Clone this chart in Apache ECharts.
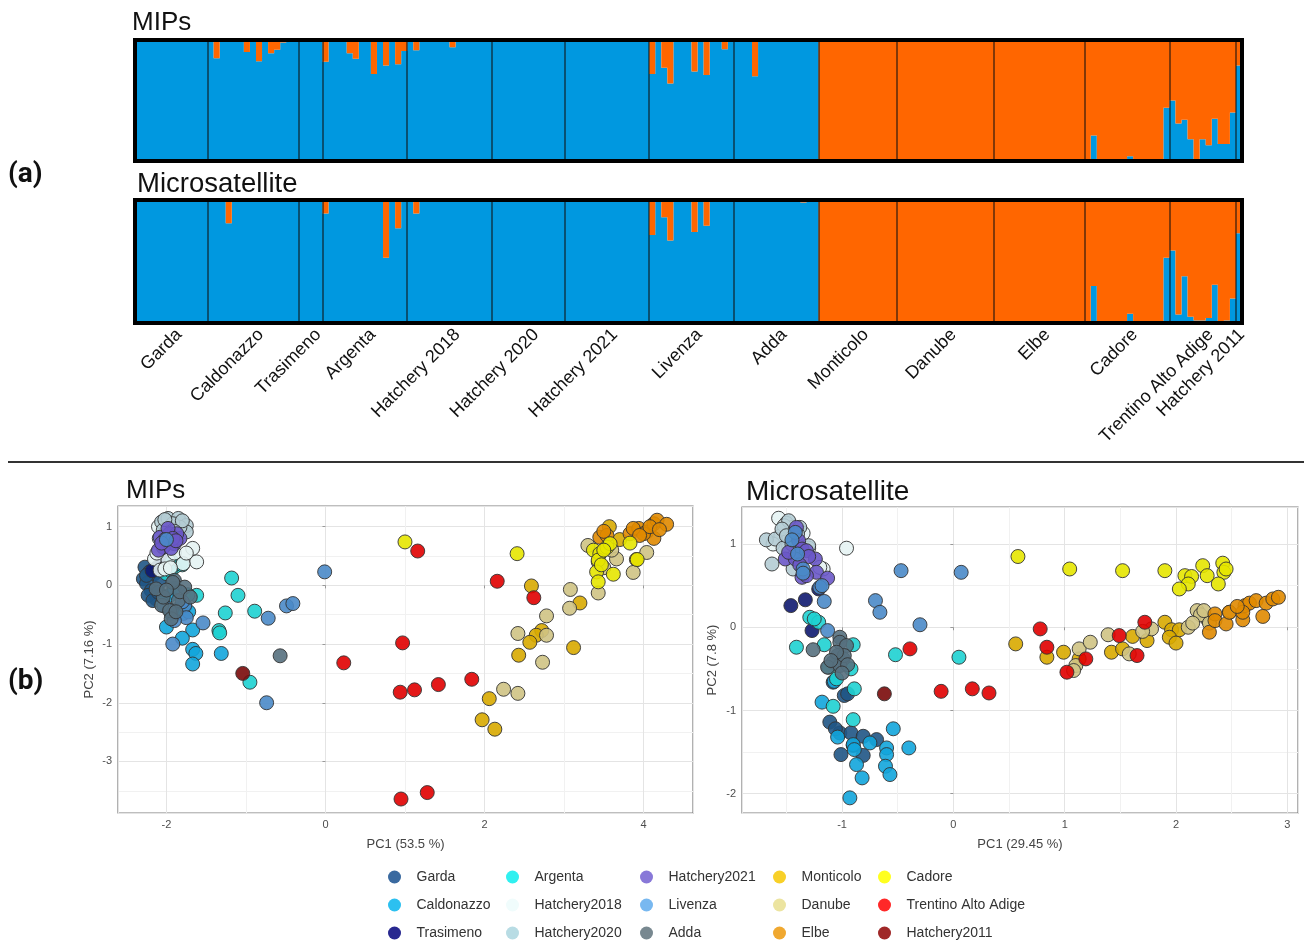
<!DOCTYPE html>
<html><head><meta charset="utf-8">
<script src="https://cdn.jsdelivr.net/npm/echarts@6/dist/echarts.min.js"></script>
<style>html,body{margin:0;padding:0;background:#fff}#c{width:1304px;height:940px}</style>
</head><body><div id="c"></div>
<script>
// ---------- categories ----------
const groups = ['Garda','Caldonazzo','Trasimeno','Argenta','Hatchery2018','Hatchery2020','Hatchery2021','Livenza','Adda','Monticolo','Danube','Elbe','Cadore','Trentino Alto Adige','Hatchery2011'];
const barLabels = ['Garda','Caldonazzo','Trasimeno','Argenta','Hatchery 2018','Hatchery 2020','Hatchery 2021','Livenza','Adda','Monticolo','Danube','Elbe','Cadore','Trentino Alto Adige','Hatchery 2011'];
const groupSizes = [12,15,4,14,14,12,14,14,14,13,16,15,14,11,1];

// ---------- STRUCTURE: blue-cluster ancestry per individual ----------
const mipsBlue = [
  [1,1,1,1,1,1,1,1,1,1,1,1],
  [0.99,0.85,0.985,1,0.99,1,0.90,1,0.825,0.99,0.89,0.92,0.98,1,1],
  [1,1,1,1],
  [0.82,1,0.995,0.995,0.89,0.845,0.995,1,0.72,1,0.79,1,0.80,0.91],
  [1,0.915,1,1,1,1,1,0.94,1,1,1,1,1,1],
  [1,0.995,1,1,1,1,1,1,1,1,1,1],
  [1,1,1,1,1,1,1,1,1,1,1,1,1,1],
  [0.72,1,0.77,0.64,1,1,1,0.74,1,0.71,1,1,0.923,1],
  [1,1,0.99,0.70,0.99,0.99,1,1,1,1,1,1,1,1],
  [0.01,0.01,0,0,0,0,0,0,0,0,0,0,0],
  [0,0,0,0,0,0,0,0,0,0,0,0,0,0,0,0],
  [0,0,0,0,0,0,0,0,0,0,0,0,0,0,0],
  [0,0.21,0,0,0.01,0,0,0.04,0.015,0,0,0,0,0.44],
  [0.50,0.31,0.34,0.18,0.01,0.18,0.13,0.35,0.14,0.14,0.40],
  [0.79]
];
const microBlue = [
  [1,1,1,1,1,0.983,1,1,0.983,1,1,1],
  [1,1,1,0.81,1,1,0.985,1,1,1,1,1,1,1,1],
  [1,1,1,1],
  [0.89,1,1,1,0.99,1,1,0.99,0.99,1,0.53,1,0.77,1],
  [1,0.89,1,1,1,1,1,0.985,1,1,1,1,1,1],
  [1,1,1,1,1,1,1,1,1,1,1,1],
  [1,1,1,1,1,1,1,1,1,1,1,1,1,1],
  [0.715,1,0.86,0.67,1,1,1,0.74,1,0.79,1,1,1,1],
  [1,1,1,1,1,0.99,1,1,1,1,1,0.98,1,1],
  [0,0.01,0.01,0,0,0,0,0,0,0,0,0,0],
  [0,0,0,0,0,0,0,0,0,0,0,0,0,0,0,0],
  [0,0,0,0,0,0,0,0,0,0,0,0,0,0,0],
  [0.005,0.30,0.005,0.005,0.005,0.005,0.005,0.076,0.005,0.005,0.005,0.005,0.005,0.53],
  [0.59,0.07,0.38,0.05,0.02,0.02,0.04,0.31,0.01,0.02,0.20],
  [0.73]
];

// ---------- PCA scores ----------
const mipsPCA = [
  [[-2.27,0.31],[-2.21,0.23],[-2.29,0.11],[-2.25,0.03],[-2.19,-0.09],[-2.13,-0.23],[-2.23,-0.17],[-2.15,0.20],[-2.08,0.06],[-2.17,-0.26],[-2.25,0.17],[-2.10,-0.12]],
  [[-1.67,-0.76],[-1.80,-0.90],[-1.67,-1.09],[-1.63,-1.16],[-1.67,-1.34],[-1.31,-1.16],[-2.0,-0.71],[-1.96,-0.17],[-1.77,-0.37],[-1.79,-0.48],[-1.94,-0.48],[-1.85,-0.40],[-1.72,-0.45],[-2.05,-0.30],[-1.90,-0.05]],
  [[-2.02,0.45],[-2.12,0.30],[-2.06,0.35],[-2.18,0.25]],
  [[-1.18,0.125],[-1.10,-0.17],[-1.26,-0.47],[-0.89,-0.44],[-1.34,-0.77],[-1.33,-0.81],[-0.95,-1.65],[-1.62,-0.17],[-1.73,-0.16],[-1.90,0.31],[-1.93,0.40],[-2.0,0.20],[-1.95,0.25],[-1.80,0.35]],
  [[-1.67,0.63],[-1.62,0.40],[-1.79,0.37],[-2.15,0.45],[-2.08,0.26],[-1.98,0.43],[-2.02,0.28],[-1.90,0.55],[-2.05,0.70],[-1.85,0.95],[-2.10,1.0],[-1.95,0.30],[-1.75,0.55],[-2.12,0.55]],
  [[-2.06,1.08],[-1.98,1.14],[-1.85,1.14],[-1.75,1.02],[-1.75,0.91],[-1.83,0.99],[-1.92,1.05],[-2.04,0.94],[-2.09,0.80],[-1.80,1.10],[-2.02,1.12],[-1.90,0.92]],
  [[-2.08,0.82],[-2.0,0.74],[-1.90,0.71],[-1.83,0.80],[-1.96,0.88],[-2.04,0.65],[-2.10,0.60],[-1.94,0.63],[-1.87,0.88],[-1.98,0.97],[-2.02,0.78],[-1.92,0.80],[-2.06,0.72],[-1.88,0.76]],
  [[-0.01,0.23],[-0.49,-0.35],[-0.41,-0.31],[-0.72,-0.56],[-0.74,-2.0],[-1.54,-0.64],[-1.92,-1.0],[-1.94,-0.43],[-1.77,-0.34],[-2.0,0.78],[-1.75,-0.55],[-1.90,-0.60],[-2.03,-0.35],[-1.80,-0.28]],
  [[-0.57,-1.2],[-1.90,0.085],[-1.77,-0.03],[-1.85,-0.26],[-2.06,-0.34],[-1.96,-0.43],[-2.04,-0.2],[-2.13,-0.06],[-1.94,-0.57],[-1.83,-0.11],[-1.92,0.05],[-1.70,-0.20],[-2.0,-0.08],[-1.88,-0.45]],
  [[2.59,-0.01],[3.20,-0.30],[2.72,-0.77],[2.65,-0.85],[2.57,-0.97],[3.12,-1.06],[2.43,-1.19],[2.06,-1.93],[1.97,-2.29],[2.13,-2.45],[3.57,1.0],[3.70,0.78],[3.91,0.44]],
  [[3.08,-0.07],[3.07,-0.39],[2.78,-0.52],[2.42,-0.82],[2.78,-0.85],[2.73,-1.31],[2.24,-1.77],[2.42,-1.84],[3.43,-0.13],[3.66,0.45],[3.87,0.22],[4.04,0.56],[3.30,0.68],[3.43,0.40],[3.50,0.30],[3.60,0.60]],
  [[3.45,0.82],[3.54,0.85],[3.83,0.88],[3.94,0.97],[4.04,0.91],[4.13,1.05],[4.17,1.11],[4.29,1.04],[4.13,0.80],[4.0,0.88],[3.87,0.97],[4.08,1.0],[3.50,0.92],[4.20,0.95],[3.95,0.85]],
  [[1.0,0.74],[2.41,0.54],[3.37,0.60],[3.45,0.54],[3.43,0.43],[3.54,0.65],[3.58,0.71],[3.41,0.23],[3.43,0.06],[3.83,0.72],[3.92,0.44],[3.62,0.19],[3.50,0.60],[3.47,0.35]],
  [[1.16,0.585],[2.16,0.07],[2.62,-0.21],[0.97,-0.98],[0.23,-1.32],[0.94,-1.82],[1.12,-1.78],[1.42,-1.69],[1.84,-1.60],[0.95,-3.64],[1.28,-3.53]],
  [[-1.04,-1.50]]
];
const microPCA = [
  [[-1.08,-0.66],[-0.98,-0.82],[-0.95,-0.80],[-1.11,-1.14],[-1.02,-1.27],[-0.92,-1.27],[-0.81,-1.31],[-0.69,-1.35],[-1.01,-1.53],[-0.81,-1.54],[-0.90,-1.42],[-1.06,-1.22]],
  [[-1.18,-0.90],[-1.04,-1.32],[-0.90,-1.41],[-0.89,-1.47],[-0.87,-1.65],[-0.82,-1.81],[-0.93,-2.05],[-0.54,-1.22],[-0.40,-1.45],[-0.60,-1.45],[-0.60,-1.53],[-0.61,-1.67],[-0.57,-1.77],[-0.75,-1.39],[-1.07,-0.65]],
  [[-1.46,0.26],[-1.33,0.33],[-1.27,-0.04],[-1.21,0.46]],
  [[-1.41,-0.24],[-1.16,-0.21],[-1.29,0.12],[-1.21,0.06],[-0.52,-0.33],[0.05,-0.36],[-0.90,-0.21],[-0.92,-0.50],[-1.05,-0.62],[-0.89,-0.74],[-1.08,-0.95],[-0.90,-1.11],[-1.12,-0.48],[-1.25,0.10]],
  [[-0.96,0.95],[-1.17,0.70],[-1.57,1.31],[-1.50,1.25],[-1.45,1.20],[-1.55,1.10],[-1.40,1.05],[-1.35,1.13],[-1.62,1.00],[-1.30,0.95],[-1.48,0.98],[-1.20,0.72],[-1.52,1.22],[-1.42,0.92]],
  [[-1.48,1.28],[-1.68,1.05],[-1.63,0.76],[-1.60,1.06],[-1.53,0.95],[-1.45,1.0],[-1.38,1.20],[-1.30,0.98],[-1.44,0.70],[-1.54,1.18],[-1.50,1.10],[-1.40,1.12]],
  [[-1.41,1.20],[-1.39,1.04],[-1.36,0.94],[-1.32,0.92],[-1.51,0.82],[-1.42,0.82],[-1.24,0.82],[-1.36,0.60],[-1.23,0.66],[-1.13,0.59],[-1.32,0.62],[-1.48,0.90],[-1.30,0.85],[-1.38,0.75]],
  [[-0.47,0.68],[0.07,0.66],[-0.70,0.32],[-0.66,0.18],[-0.30,0.03],[-1.16,0.31],[-1.20,0.48],[-1.13,-0.04],[-1.42,1.14],[-1.35,0.70],[-1.40,0.88],[-1.18,0.50],[-1.45,1.05],[-1.35,0.65]],
  [[-1.26,-0.27],[-1.02,-0.12],[-1.02,-0.18],[-0.96,-0.22],[-1.04,-0.34],[-0.99,-0.38],[-1.08,-0.42],[-1.13,-0.48],[-1.02,-0.46],[-0.98,-0.34],[-1.05,-0.30],[-0.95,-0.45],[-1.00,-0.55],[-1.10,-0.40]],
  [[0.56,-0.20],[0.99,-0.30],[0.84,-0.36],[1.42,-0.30],[1.52,-0.26],[1.61,-0.11],[1.74,-0.16],[1.90,0.06],[1.96,-0.03],[2.03,-0.03],[1.94,-0.12],[2.0,-0.19],[1.13,-0.38]],
  [[1.13,-0.26],[1.23,-0.18],[1.10,-0.46],[1.39,-0.09],[1.58,-0.32],[1.78,-0.02],[2.11,0.0],[2.19,0.20],[2.28,0.10],[2.48,0.18],[2.22,0.15],[1.08,-0.52],[2.30,0.05],[1.70,-0.05],[2.15,0.05],[2.25,0.20]],
  [[2.30,-0.06],[2.35,0.16],[2.35,0.08],[2.45,0.04],[2.48,0.18],[2.60,0.09],[2.62,0.26],[2.66,0.29],[2.72,0.32],[2.81,0.29],[2.87,0.34],[2.92,0.36],[2.78,0.13],[2.60,0.18],[2.55,0.25]],
  [[0.58,0.85],[1.045,0.70],[1.52,0.68],[1.90,0.68],[2.08,0.62],[2.14,0.61],[2.11,0.52],[2.03,0.46],[2.24,0.74],[2.28,0.62],[2.42,0.77],[2.43,0.66],[2.38,0.52],[2.45,0.70]],
  [[-0.39,-0.26],[-0.11,-0.77],[0.17,-0.74],[0.32,-0.79],[0.78,-0.02],[0.84,-0.24],[1.02,-0.54],[1.19,-0.38],[1.49,-0.10],[1.65,-0.34],[1.72,0.06]],
  [[-0.62,-0.80]]
];

// ---------- colours ----------
const pointColors = ['#1f5585','#12a5dc','#101a70','#1ed2d2','#e6f3f3','#b4ccd4','#6a58c8','#4a8ac8','#56707e','#d8aa00','#cfc384','#e08a00','#e6e600','#e00000','#7a0a0a'];
const legendColors = ['#3a6aa0','#2cc0f0','#282890','#30f0f0','#f0fcfc','#b8dce4','#8878d8','#78b8f0','#788890','#f8d028','#ece4a0','#f0a830','#ffff20','#ff2828','#a02828'];
const legendColumns = [[0,1,2],[3,4,5],[6,7,8],[9,10,11],[12,13,14]];
const legendLefts = [388,506,640,773,878];
const BLUE = '#0098e0', ORANGE = '#ff6600';

// ---------- build ----------
const N = groupSizes.reduce((a,b)=>a+b,0);
const ids = []; for (let i=0;i<N;i++) ids.push('ind'+(i+1));
const boundaries = []; const labelPos = []; const labelByPos = {};
let acc = 0;
groupSizes.forEach((s,g)=>{
  const p = +Math.min(N - 0.02, acc + s/2 + 1.3).toFixed(2);
  labelPos.push(p); labelByPos[p.toFixed(2)] = barLabels[g];
  acc += s; if (acc < N) boundaries.push(acc);
});
const flat = arr => [].concat(...arr);
const mB = flat(mipsBlue), sB = flat(microBlue);

const FONT = "'Liberation Sans', Arial, sans-serif";
const chart = echarts.init(document.getElementById('c'), null, {renderer:'canvas'});

function barGrid(top, height){ return {left:135, top:top, width:1107, height:height, show:true, borderColor:'#000', borderWidth:4, backgroundColor:'transparent', z:10}; }
function sepSeries(xi, yi){
  return {type:'line', xAxisIndex:xi, yAxisIndex:yi, data:[[0,0]], symbol:'none', lineStyle:{opacity:0}, z:5, silent:true,
    markLine:{silent:true, symbol:['none','none'], label:{show:false}, lineStyle:{color:'rgba(15,15,15,0.7)', width:1.5, type:'solid'},
      data: boundaries.map(b=>({xAxis:b}))}};
}
function barPair(xi, yi, blue, stack){
  return [
    {type:'bar', xAxisIndex:xi, yAxisIndex:yi, stack:stack, data:blue, barCategoryGap:0, barGap:0, silent:true,
      large:true, largeThreshold:50, itemStyle:{color:BLUE}},
    {type:'bar', xAxisIndex:xi, yAxisIndex:yi, stack:stack, data:blue.map(v=>+(1-v).toFixed(4)), barCategoryGap:0, barGap:0, silent:true,
      large:true, largeThreshold:50, itemStyle:{color:ORANGE}}
  ];
}
function pcaX(grid, min, max, split, name){
  return {type:'value', gridIndex:grid, min:min, max:max, splitNumber:split,
    axisLine:{show:false}, axisTick:{show:true, length:3, lineStyle:{color:'#999'}},
    axisLabel:{showMinLabel:false, showMaxLabel:false, fontSize:11, color:'#4d4d4d', margin:6},
    splitLine:{lineStyle:{color:'#e4e4e4', width:1}},
    minorTick:{show:false, splitNumber:2}, minorSplitLine:{show:true, lineStyle:{color:'#f1f1f1', width:1}},
    name:name, nameLocation:'middle', nameGap:25, nameTextStyle:{fontSize:13, color:'#444'}};
}
function pcaY(grid, min, max, split, name, gap){
  return {type:'value', gridIndex:grid, min:min, max:max, splitNumber:split,
    axisLine:{show:false}, axisTick:{show:true, length:3, lineStyle:{color:'#999'}},
    axisLabel:{showMinLabel:false, showMaxLabel:false, fontSize:11, color:'#4d4d4d', margin:6},
    splitLine:{lineStyle:{color:'#e4e4e4', width:1}},
    minorTick:{show:false, splitNumber:2}, minorSplitLine:{show:true, lineStyle:{color:'#f1f1f1', width:1}},
    name:name, nameLocation:'middle', nameGap:gap, nameRotate:90, nameTextStyle:{fontSize:13, color:'#444'}};
}

const series = [];
series.push(...barPair(0,0,mB,'a'));
series.push(sepSeries(1,0));
series.push(...barPair(2,1,sB,'b'));
series.push(sepSeries(3,1));
[[mipsPCA,4,2],[microPCA,5,3]].forEach(([pca,xi,yi])=>{
  groups.forEach((g,i)=>{
    series.push({type:'scatter', name:g, xAxisIndex:xi, yAxisIndex:yi, data:pca[i], symbolSize:14,
      itemStyle:{color:pointColors[i], borderColor:'#333', borderWidth:1, opacity:0.9}});
  });
});

const option = {
  animation:false,
  backgroundColor:'#fff',
  textStyle:{fontFamily:FONT},
  title:[
    {text:'MIPs', left:132, top:10, padding:0, textStyle:{fontSize:26, fontWeight:'normal', color:'#111', fontFamily:FONT}},
    {text:'Microsatellite', left:137, top:170, padding:0, textStyle:{fontSize:27.5, fontWeight:'normal', color:'#111', fontFamily:FONT}},
    {text:'(a)', left:8, top:161, padding:0, textStyle:{fontSize:28, fontWeight:'bold', color:'#111', fontFamily:"Roboto, 'Liberation Sans', sans-serif"}},
    {text:'(b)', left:8, top:668, padding:0, textStyle:{fontSize:28, fontWeight:'bold', color:'#111', fontFamily:"Roboto, 'Liberation Sans', sans-serif"}},
    {text:'MIPs', left:126, top:478, padding:0, textStyle:{fontSize:26, fontWeight:'normal', color:'#111', fontFamily:FONT}},
    {text:'Microsatellite', left:746, top:478, padding:0, textStyle:{fontSize:28, fontWeight:'normal', color:'#111', fontFamily:FONT}}
  ],
  graphic:[{type:'line', shape:{x1:8, y1:462, x2:1304, y2:462}, style:{stroke:'#333', lineWidth:2}, silent:true}],
  grid:[
    barGrid(40,121),
    barGrid(200,123),
    {left:118, top:506, width:575, height:307, show:true, borderColor:'#7f7f7f', borderWidth:1.2, backgroundColor:'transparent'},
    {left:742, top:507, width:556, height:306, show:true, borderColor:'#7f7f7f', borderWidth:1.2, backgroundColor:'transparent'}
  ],
  xAxis:[
    {type:'category', gridIndex:0, data:ids, show:false, position:'bottom'},
    {type:'value', gridIndex:0, min:0, max:N, show:false, position:'bottom'},
    {type:'category', gridIndex:1, data:ids, show:false, position:'bottom'},
    {type:'value', gridIndex:1, min:0, max:N, position:'bottom', axisLine:{show:false}, axisTick:{show:false}, splitLine:{show:false},
      axisLabel:{customValues:labelPos, formatter:(v)=>labelByPos[(+v).toFixed(2)]||'', rotate:45, fontSize:18, color:'#111', margin:9, fontFamily:FONT, showMinLabel:true, showMaxLabel:true, hideOverlap:false}},
    pcaX(2, -2.609, 4.622, 4, 'PC1 (53.5 %)'),
    pcaX(3, -1.899, 3.096, 5, 'PC1 (29.45 %)')
  ],
  yAxis:[
    {type:'value', gridIndex:0, min:0, max:1, show:false},
    {type:'value', gridIndex:1, min:0, max:1, show:false},
    pcaY(2, -3.878, 1.352, 5, 'PC2 (7.16 %)', 22),
    pcaY(3, -2.232, 1.445, 4, 'PC2 (7.8 %)', 23)
  ],
  legend: legendColumns.map((col,ci)=>({
    orient:'vertical', left:legendLefts[ci], top:870, padding:0, itemGap:14, itemWidth:34, itemHeight:13, icon:'circle',
    textStyle:{fontSize:14, color:'#333', lineHeight:13, fontFamily:FONT},
    data: col.map(i=>({name:groups[i], itemStyle:{color:legendColors[i], borderWidth:0, opacity:1}}))
  })),
  series: series
};
chart.setOption(option);
</script></body></html>
